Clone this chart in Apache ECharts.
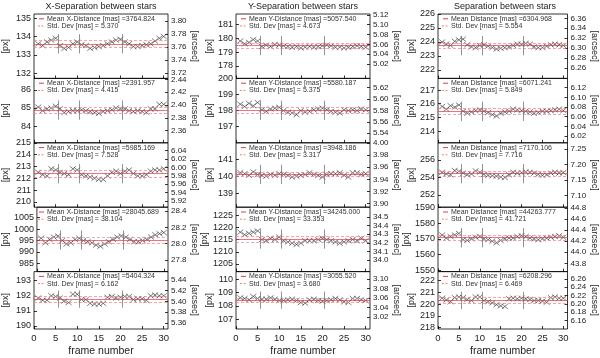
<!DOCTYPE html>
<html>
<head>
<meta charset="utf-8">
<script src="https://cdn.jsdelivr.net/npm/echarts@6/dist/echarts.min.js"></script>
<style>
  html, body { margin: 0; padding: 0; background: #fff; }
  #chart { width: 600px; height: 358px; }
</style>
</head>
<body>
<div id="chart"></div>
<script>
const frames = [1, 2, 3, 4, 5, 6, 7, 8, 9, 10, 11, 12, 13, 14, 15, 16, 17, 18, 19, 20, 21, 22, 23, 24, 25, 26, 27, 28, 29, 30];
const frameTicks = [0, 5, 10, 15, 20, 25, 30];
const sepFrames = [5.5, 10.5, 20.5];
const plateScale = 28.18; // mas per px

const colTitles = ['X-Separation between stars', 'Y-Separation between stars', 'Separation between stars'];
const meanNames = ['Mean X-Distance', 'Mean Y-Distance', 'Mean Distance'];

// X separation [px]
const xSep1 = [133.6, 133.5, 133.7, 133.8, 133.9, 133.5, 133.35, 133.4, 133.6, 133.7, 133.55, 133.5, 133.35, 133.4, 133.45, 133.5, 133.6, 133.7, 133.8, 133.85, 133.7, 133.6, 133.45, 133.45, 133.5, 133.55, 133.6, 133.75, 133.9, 134.0];
const xSep2 = [85.05, 84.85, 84.95, 85.0, 85.1, 84.95, 84.75, 84.8, 84.85, 84.85, 84.9, 84.85, 84.8, 84.75, 84.7, 84.8, 84.85, 84.9, 85.0, 84.95, 84.95, 84.85, 84.8, 84.85, 84.8, 84.75, 84.95, 84.95, 85.2, 85.2];
const xSep3 = [212.5, 212.3, 212.2, 212.8, 212.7, 212.5, 212.4, 212.3, 212.8, 212.7, 212.3, 212.2, 212.1, 212.0, 211.9, 211.9, 212.2, 212.5, 212.6, 212.4, 212.6, 212.7, 212.4, 212.2, 212.2, 212.3, 212.6, 212.7, 212.7, 212.8];
const xSep4 = [996, 994, 995.5, 996.5, 997, 995, 993.5, 994, 995.5, 996, 995, 994.5, 994, 993, 992.5, 993.5, 994.5, 995.5, 996.5, 997, 996.5, 995.5, 994.5, 994.5, 995, 995.5, 996.5, 997.5, 998, 998.5];
const xSep5 = [191.85, 191.7, 191.7, 192.0, 191.95, 191.85, 191.65, 191.55, 192.1, 192.1, 191.75, 191.75, 191.5, 191.45, 191.45, 191.5, 191.9, 191.95, 191.85, 191.9, 191.95, 191.95, 191.75, 191.8, 191.8, 191.7, 192.0, 192.05, 192.0, 192.0];
const xMeanMas = [3764.824, 2391.957, 5985.169, 28045.689, 5404.324];
const xStdMas = [5.370, 4.415, 7.528, 38.104, 6.162];

// Y separation [px]
const ySep1 = [179.8, 179.6, 179.7, 179.9, 179.8, 179.4, 179.5, 179.4, 179.55, 179.5, 179.45, 179.4, 179.35, 179.4, 179.3, 179.35, 179.4, 179.35, 179.4, 179.45, 179.5, 179.45, 179.35, 179.35, 179.3, 179.35, 179.4, 179.45, 179.4, 179.35];
const ySep2 = [198.4, 198.25, 198.45, 198.3, 198.5, 198.05, 197.95, 198.1, 198.15, 198.2, 198.0, 197.9, 197.85, 197.75, 198.0, 197.9, 197.95, 198.05, 198.1, 198.15, 198.05, 197.95, 197.9, 197.85, 198.05, 198.0, 198.05, 198.0, 198.1, 198.05];
const ySep3 = [140.2, 140.15, 140.05, 140.25, 140.1, 140.05, 140.0, 140.1, 140.05, 140.15, 140.1, 140.05, 139.95, 140.0, 140.05, 140.1, 140.2, 140.1, 140.05, 139.95, 140.1, 140.15, 140.15, 140.2, 140.05, 139.95, 140.2, 140.2, 140.1, 140.15];
const ySep4 = [1218, 1217, 1217.5, 1218, 1218.5, 1215, 1214.5, 1215.5, 1215, 1216, 1214.5, 1214, 1213.5, 1213, 1213.5, 1214.5, 1214.5, 1214.5, 1215, 1215.5, 1215, 1214.5, 1214, 1213.5, 1214, 1214.5, 1215, 1214.5, 1215.5, 1214.5];
const ySep5 = [108.6, 108.55, 108.45, 108.7, 108.55, 108.5, 108.5, 108.6, 108.5, 108.4, 108.4, 108.45, 108.5, 108.4, 108.25, 108.2, 108.45, 108.5, 108.4, 108.35, 108.4, 108.45, 108.55, 108.45, 108.3, 108.25, 108.55, 108.55, 108.45, 108.4];
const yMeanMas = [5057.540, 5580.187, 3948.186, 34245.000, 3055.520];
const yStdMas = [4.673, 5.375, 3.317, 33.353, 3.680];

// total separation [px]
const dSep1 = [224.0, 223.85, 223.75, 224.05, 224.15, 224.2, 223.8, 223.65, 223.6, 223.75, 223.8, 223.7, 223.6, 223.5, 223.55, 223.6, 223.65, 223.75, 223.85, 223.85, 223.9, 223.85, 223.65, 223.6, 223.6, 223.7, 223.8, 223.85, 223.8, 223.75];
const dSep2 = [215.8, 215.6, 215.85, 215.75, 215.9, 215.45, 215.3, 215.4, 215.5, 215.55, 215.45, 215.35, 215.2, 215.1, 215.3, 215.4, 215.45, 215.6, 215.55, 215.5, 215.45, 215.4, 215.3, 215.35, 215.45, 215.45, 215.5, 215.55, 215.6, 215.5];
const dSep3 = [254.6, 254.4, 254.3, 254.8, 254.7, 254.5, 254.3, 254.4, 254.75, 254.6, 254.35, 254.25, 254.2, 254.15, 254.05, 254.0, 254.3, 254.6, 254.5, 254.55, 254.65, 254.6, 254.5, 254.35, 254.25, 254.3, 254.5, 254.6, 254.5, 254.55];
const dSep4 = [1572.5, 1570.5, 1571.5, 1572.5, 1573.5, 1569.5, 1569, 1570, 1571, 1571.5, 1570, 1569.5, 1568.5, 1567.5, 1569, 1570, 1570.5, 1570.5, 1571.5, 1572, 1571.5, 1570.5, 1570, 1569.5, 1570, 1570.5, 1571, 1571.5, 1572, 1571];
const dSep5 = [220.5, 220.35, 220.2, 220.55, 220.6, 220.55, 220.4, 220.3, 220.6, 220.6, 220.3, 220.2, 220.1, 219.95, 219.85, 219.8, 220.45, 220.5, 220.45, 220.5, 220.45, 220.4, 220.3, 220.3, 220.25, 220.15, 220.55, 220.6, 220.5, 220.5];
const dMeanMas = [6304.968, 6071.241, 7170.106, 44263.777, 6208.296];
const dStdMas = [5.554, 5.849, 7.716, 41.721, 6.469];

// left axis extents and tick labels [px]
const xPxRange = [[131.72, 135.22], [83.07, 86.64], [209.55, 215.0], [981.4, 1009.6], [189.8, 193.6]];
const yPxRange = [[177.1, 181.75], [196.0, 200.0], [138.19, 141.95], [1201.9, 1228.2], [106.27, 110.56]];
const dPxRange = [[221.4, 226.0], [213.14, 217.85], [250.6, 257.97], [1549, 1590.3], [217.87, 222.77]];
const xPxTicks = [[132, 133, 134, 135], [84, 85, 86], [210, 211, 212, 213, 214, 215], [985, 990, 995, 1000, 1005], [190, 191, 192, 193]];
const yPxTicks = [[178, 179, 180, 181], [197, 198, 199, 200], [139, 140, 141], [1205, 1210, 1215, 1220, 1225], [107, 108, 109, 110]];
const dPxTicks = [[222, 223, 224, 225, 226], [214, 215, 216, 217], [252, 254, 256], [1550, 1560, 1570, 1580, 1590], [218, 219, 220, 221, 222]];

// right axis tick labels [arcsec]
const xArcTicks = [[3.72, 3.74, 3.76, 3.78, 3.80], [2.36, 2.38, 2.40, 2.42, 2.44], [5.92, 5.94, 5.96, 5.98, 6.00, 6.02, 6.04], [27.8, 28.0, 28.2, 28.4], [5.36, 5.38, 5.40, 5.42, 5.44]];
const yArcTicks = [[5.02, 5.04, 5.06, 5.08, 5.10, 5.12], [5.54, 5.56, 5.58, 5.60, 5.62], [3.90, 3.92, 3.94, 3.96, 3.98, 4.00], [34.0, 34.1, 34.2, 34.3, 34.4, 34.5], [3.02, 3.04, 3.06, 3.08, 3.10]];
const dArcTicks = [[6.26, 6.28, 6.30, 6.32, 6.34, 6.36], [6.02, 6.04, 6.06, 6.08, 6.10, 6.12], [7.10, 7.15, 7.20, 7.25], [43.8, 44.0, 44.2, 44.4, 44.6, 44.8], [6.16, 6.18, 6.20, 6.22, 6.24, 6.26]];
const arcDecimals = [2, 2, 2, 1, 2];

const columns = [
  { data: [xSep1, xSep2, xSep3, xSep4, xSep5], mean: xMeanMas, std: xStdMas, range: xPxRange, pxTicks: xPxTicks, arcTicks: xArcTicks },
  { data: [ySep1, ySep2, ySep3, ySep4, ySep5], mean: yMeanMas, std: yStdMas, range: yPxRange, pxTicks: yPxTicks, arcTicks: yArcTicks },
  { data: [dSep1, dSep2, dSep3, dSep4, dSep5], mean: dMeanMas, std: dStdMas, range: dPxRange, pxTicks: dPxTicks, arcTicks: dArcTicks }
];

// layout
const colLeft = [34, 236, 438];
const plotW = 134;
const top0 = 14;
const rowH = 64.4;
const pxNameGap = [24, 20, 22];
const font = '"Liberation Sans", Arial, sans-serif';
const red = '#e33a44';
const redDash = '#ee8088';

const grids = [], xAxes = [], yAxes = [], series = [], graphics = [];

columns.forEach(function (col, c) {
  const left = colLeft[c];
  graphics.push({
    type: 'text', x: left + plotW / 2, y: 6.5,
    style: { text: colTitles[c], font: '9px ' + font, fill: '#222', align: 'center', verticalAlign: 'middle' }
  });

  col.data.forEach(function (vals, r) {
    const top = top0 + r * rowH;
    const g = grids.length;
    const bottom = r === 4;
    const [lo, hi] = col.range[r];
    const meanPx = col.mean[r] / plateScale;
    const stdPx = col.std[r] / plateScale;
    const half = 0.15 * (hi - lo);

    grids.push({
      left: left, top: top, width: plotW, height: rowH,
      show: true, borderColor: '#000', borderWidth: 0.8, backgroundColor: 'transparent'
    });

    xAxes.push({
      gridIndex: g, type: 'value', min: 0, max: 31,
      name: bottom ? 'frame number' : '', nameLocation: 'middle', nameGap: 17,
      nameTextStyle: { fontSize: 10.5, fontFamily: font, color: '#222' },
      axisLine: { show: false },
      axisTick: { inside: true, length: 3, customValues: frameTicks, lineStyle: { color: '#000', width: 0.8 } },
      axisLabel: { show: bottom, customValues: frameTicks, fontSize: 9.5, fontFamily: font, color: '#222', margin: 4 },
      splitLine: { show: false }
    });

    yAxes.push({
      gridIndex: g, type: 'value', position: 'left', min: lo, max: hi,
      name: '[px]', nameLocation: 'middle', nameGap: pxNameGap[c], nameRotate: 90,
      nameTextStyle: { fontSize: 9, fontFamily: font, color: '#222' },
      axisLine: { show: false },
      axisTick: { inside: true, length: 3, customValues: col.pxTicks[r], lineStyle: { color: '#000', width: 0.8 } },
      axisLabel: {
        customValues: col.pxTicks[r], interval: 0, fontSize: 9, fontFamily: font, color: '#222', margin: 3,
        showMinLabel: true, showMaxLabel: true, hideOverlap: false,
        formatter: function (v) { return String(v); }
      },
      splitLine: { show: false }
    });
    yAxes.push({
      gridIndex: g, type: 'value', position: 'right',
      min: lo * plateScale / 1000, max: hi * plateScale / 1000,
      name: '[arcsec]', nameLocation: 'middle', nameGap: 20, nameRotate: -90,
      nameTextStyle: { fontSize: 9, fontFamily: font, color: '#222' },
      axisLine: { show: false },
      axisTick: { inside: true, length: 3, customValues: col.arcTicks[r], lineStyle: { color: '#000', width: 0.8 } },
      axisLabel: {
        customValues: col.arcTicks[r], interval: 0, fontSize: 8, fontFamily: font, color: '#222', margin: 3,
        showMinLabel: true, showMaxLabel: true, hideOverlap: false,
        formatter: function (v) { return v.toFixed(arcDecimals[r]); }
      },
      splitLine: { show: false }
    });

    const vlines = sepFrames.map(function (f) {
      return [{ coord: [f, meanPx - half], lineStyle: { color: '#777', type: 'solid', width: 0.8 } }, { coord: [f, meanPx + half] }];
    });

    series.push({
      type: 'scatter',
      xAxisIndex: g, yAxisIndex: 2 * g,
      data: vals.map(function (v, i) { return [frames[i], v]; }),
      symbol: 'path://M0,0L10,10M0,10L10,0',
      symbolSize: [6, 5],
      itemStyle: { color: 'transparent', borderColor: '#333', borderWidth: 0.8 },
      silent: true,
      markLine: {
        silent: true, symbol: 'none', label: { show: false },
        animation: false,
        data: [
          { yAxis: meanPx, lineStyle: { color: red, type: 'solid', width: 0.7 } },
          { yAxis: meanPx + stdPx, lineStyle: { color: redDash, type: [3, 2], width: 0.7 } },
          { yAxis: meanPx - stdPx, lineStyle: { color: redDash, type: [3, 2], width: 0.7 } }
        ].concat(vlines)
      }
    });

    // legend box text
    const y1 = top + 4.8, y2 = top + 12;
    graphics.push(
      { type: 'line', shape: { x1: left + 5, y1: y1, x2: left + 10, y2: y1 }, style: { stroke: red, lineWidth: 1 } },
      { type: 'text', x: left + 13, y: y1, style: { text: meanNames[c] + ' [mas] =' + col.mean[r].toFixed(3), font: '7px ' + font, fill: '#333', verticalAlign: 'middle' } },
      { type: 'line', shape: { x1: left + 4, y1: y2, x2: left + 11, y2: y2 }, style: { stroke: redDash, lineWidth: 1, lineDash: [2, 1.5] } },
      { type: 'text', x: left + 13, y: y2, style: { text: 'Std. Dev [mas] = ' + col.std[r].toFixed(3), font: '7px ' + font, fill: '#333', verticalAlign: 'middle' } }
    );
  });
});

const chart = echarts.init(document.getElementById('chart'), null, { renderer: 'canvas' });
chart.setOption({
  animation: false,
  backgroundColor: '#fff',
  grid: grids,
  xAxis: xAxes,
  yAxis: yAxes,
  series: series,
  graphic: graphics
});
</script>
</body>
</html>
